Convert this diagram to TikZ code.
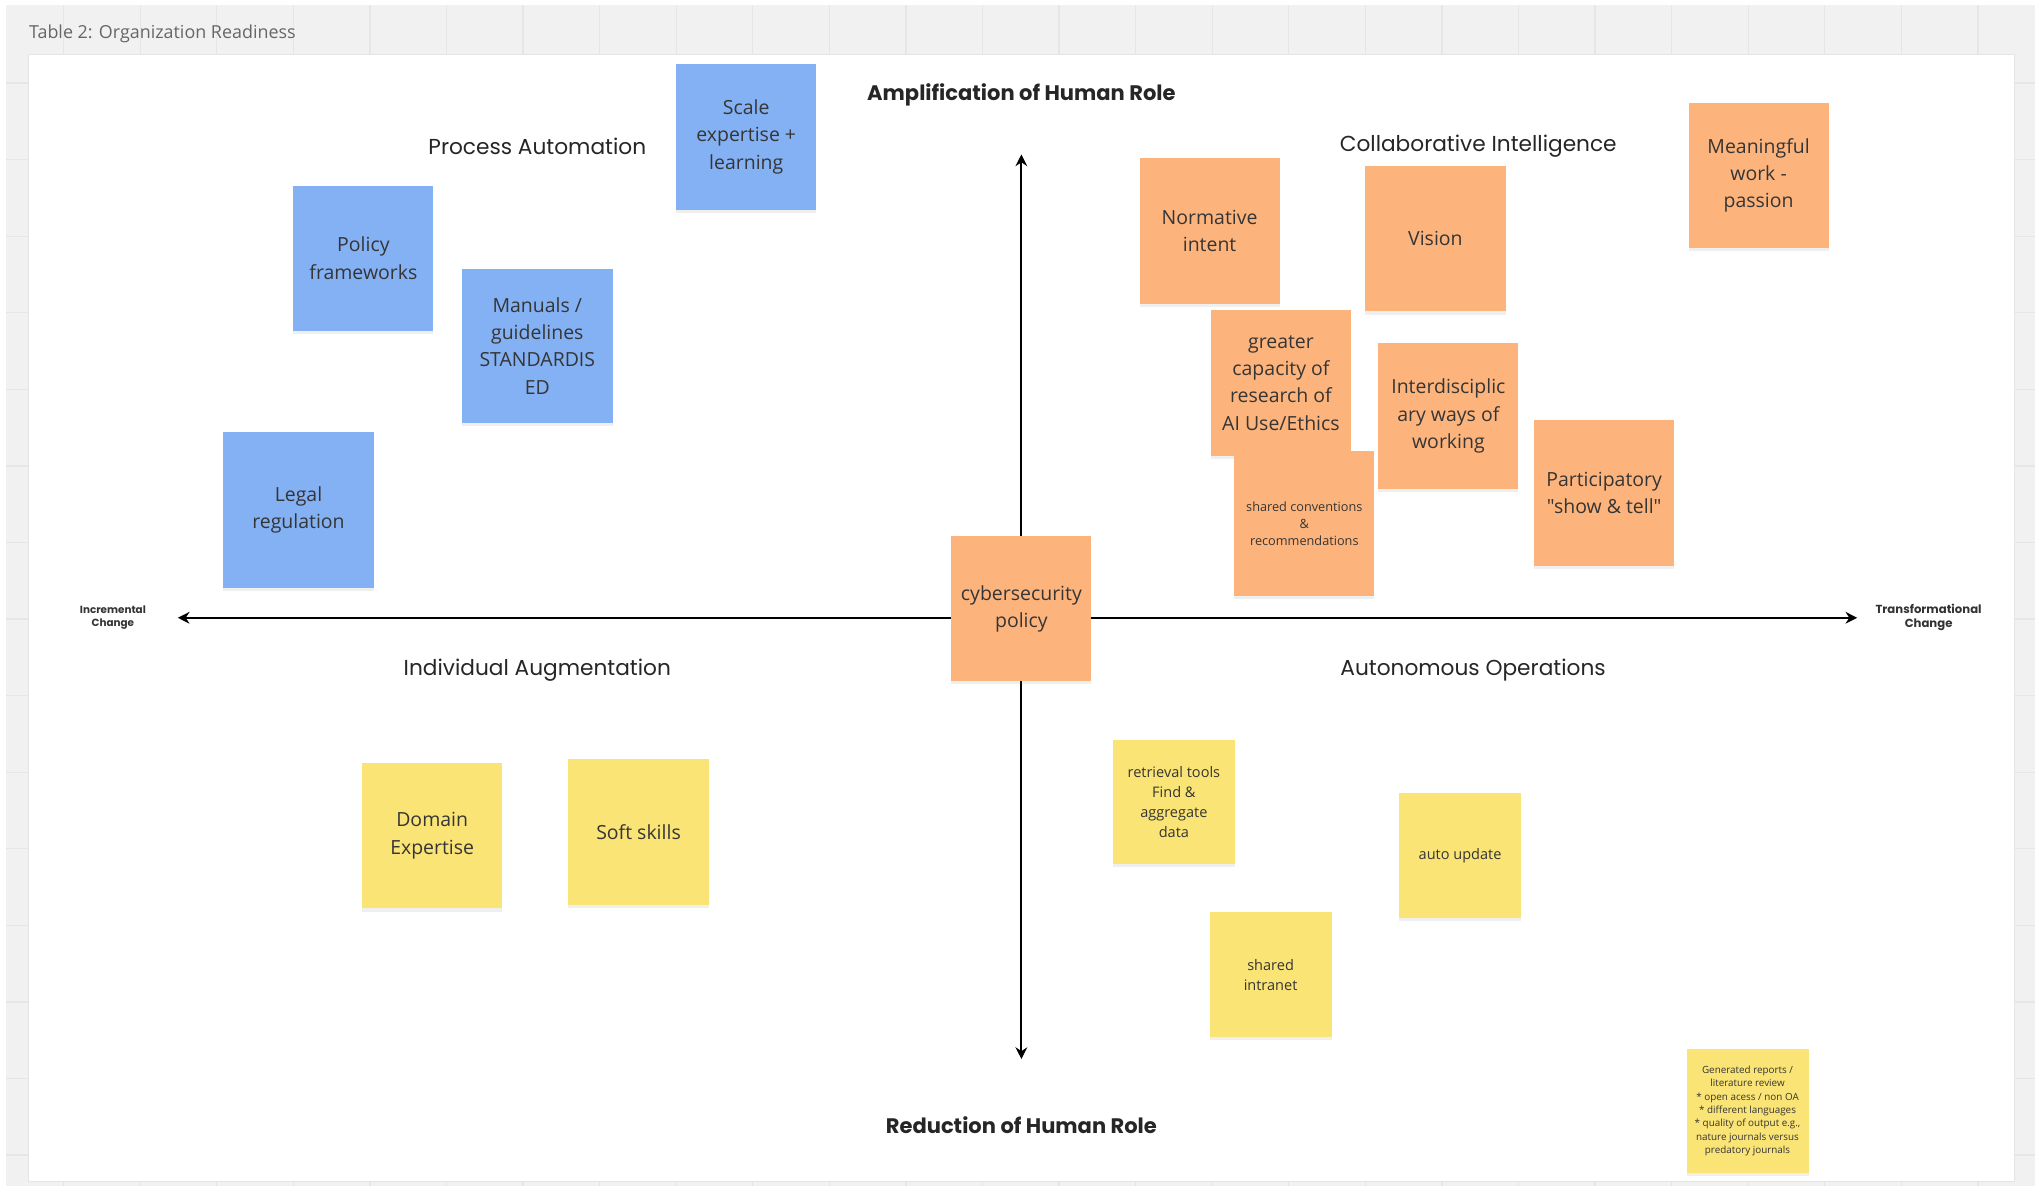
\documentclass[tikz,border=0pt]{standalone}
\usepackage{fontspec}
\setmainfont{Open Sans}[Ligatures=TeXOff]
\newfontfamily\headfont{Poppins}
\usepackage{xcolor}
\usetikzlibrary{arrows.meta, positioning, shadows}

\definecolor{boardgrey}{HTML}{F1F1F1}
\definecolor{gridgrey}{HTML}{E6E6E6}
\definecolor{notetext}{HTML}{353535}
\definecolor{blueish}{HTML}{84B1F3}
\definecolor{orangeish}{HTML}{FDB47C}
\definecolor{yellowish}{HTML}{FAE475}

\begin{document}
\begin{tikzpicture}[x=0.5pt, y=-0.5pt, font=\fontsize{7.5}{10.5}\selectfont]
    \tikzstyle{note}=[rectangle, minimum width=54pt, minimum height=56pt, align=center, inner sep=2pt, text=notetext,
      drop shadow={shadow xshift=0pt, shadow yshift=-1.2pt, opacity=0.12}]
    \tikzstyle{bluenote}=[note, fill=blueish]
    \tikzstyle{orangenote}=[note, fill=orangeish]
    \tikzstyle{yellownote}=[note, fill=yellowish, minimum width=47pt, minimum height=48pt, font=\fontsize{5.6}{7.8}\selectfont]
    \tikzstyle{quadrant}=[font=\headfont\fontsize{8.35}{10}\selectfont, text=black!85]
    \tikzstyle{rolelabel}=[font=\headfont\bfseries\fontsize{8.1}{10}\selectfont, text=black!85]
    \tikzstyle{changelabel}=[font=\headfont\bfseries\fontsize{4}{5}\selectfont, align=center, text=black!80]
    \tikzstyle{axis}=[line width=0.75pt, {Stealth[length=4.5pt, width=4.5pt]}-{Stealth[length=4.5pt, width=4.5pt]}]

    \useasboundingbox (0,0) rectangle (1568,914);
    % canvas
    \fill[white] (0,0) rectangle (1568,914);
    \fill[boardgrey] (5,4) rectangle (1568,914);
    \foreach \gx in {0,...,25}
      \draw[gridgrey, line width=0.5pt] ({49+59*\gx},4) -- ({49+59*\gx},914);
    \foreach \gy in {1,...,15}
      \draw[gridgrey, line width=0.5pt] (5,{5+59*\gy}) -- (1568,{5+59*\gy});
    \node[anchor=west, font=\fontsize{6.9}{8}\selectfont, text=black!60, inner sep=0pt] (title) at (22,26) {Table 2: Organization Readiness};
    \filldraw[fill=white, draw=black!10, line width=0.4pt] (22,42) rectangle (1552,910);

    % axes
    \node[changelabel] (incr) at (87,476) {Incremental\\Change};
    \node[changelabel, font=\headfont\bfseries\fontsize{4.5}{5.4}\selectfont] (transf) at (1486,476) {Transformational\\Change};
    \coordinate (xleft) at (137,476);
    \coordinate (xright) at (1431,476);
    \coordinate (ytop) at (787,119);
    \coordinate (ybottom) at (787,816);
    \draw[axis] (xleft) -- (xright);
    \draw[axis] (ytop) -- (ybottom);
    \node[rolelabel] (ampl) at (787,73) {Amplification of Human Role};
    \node[rolelabel] (reduc) at (787,867) {Reduction of Human Role};

    % quadrants
    \node[quadrant] (procauto) at (414,113) {Process Automation};
    \node[quadrant] (collab) at (1139,113) {Collaborative Intelligence};
    \node[quadrant] (indiv) at (414,516) {Individual Augmentation};
    \node[quadrant] (autonom) at (1135,516) {Autonomous Operations};

    % blue notes
    \node[bluenote] (scale) at (575,105.5) {Scale\\expertise +\\learning};
    \node[bluenote] (policy) at (280,199) {Policy\\frameworks};
    \node[bluenote, minimum width=58pt, minimum height=59.5pt] (manuals) at (414,266.5) {Manuals /\\guidelines\\STANDARDIS\\ED};
    \node[bluenote, minimum width=58pt, minimum height=60pt] (legal) at (230,393) {Legal\\regulation};

    % orange notes
    \node[orangenote] (normative) at (932,178) {Normative\\intent};
    \node[orangenote] (vision) at (1106,184) {Vision};
    \node[orangenote] (meaningful) at (1355,135) {Meaningful\\work -\\passion};
    \node[orangenote] (capacity) at (987,295) {greater\\capacity of\\research of\\AI Use/Ethics};
    \node[orangenote] (interdisc) at (1116,320.5) {Interdisciplic\\ary ways of\\working};
    \node[orangenote, font=\fontsize{4.9}{6.6}\selectfont] (conventions) at (1005,403.5) {shared conventions\\\&\\recommendations};
    \node[orangenote] (participatory) at (1236,380) {Participatory\\"show \& tell"};
    \node[orangenote] (cyber) at (787,469) {cybersecurity\\policy};

    % yellow notes
    \node[yellownote, minimum width=54pt, minimum height=56pt, font=\fontsize{7.5}{10.5}\selectfont] (domain) at (333,644) {Domain\\Expertise};
    \node[yellownote, minimum width=54pt, minimum height=56pt, font=\fontsize{7.5}{10.5}\selectfont] (soft) at (492,641) {Soft skills};
    \node[yellownote] (retrieval) at (904.5,618) {retrieval tools\\Find \&\\aggregate\\data};
    \node[yellownote] (autoupd) at (1125,659) {auto update};
    \node[yellownote] (intranet) at (979,751) {shared\\intranet};
    \node[yellownote, font=\fontsize{3.8}{5.15}\selectfont] (reports) at (1346.5,856) {Generated reports /\\literature review\\* open acess / non OA\\* different languages\\* quality of output e.g.,\\nature journals versus\\predatory journals};
\end{tikzpicture}
\end{document}
